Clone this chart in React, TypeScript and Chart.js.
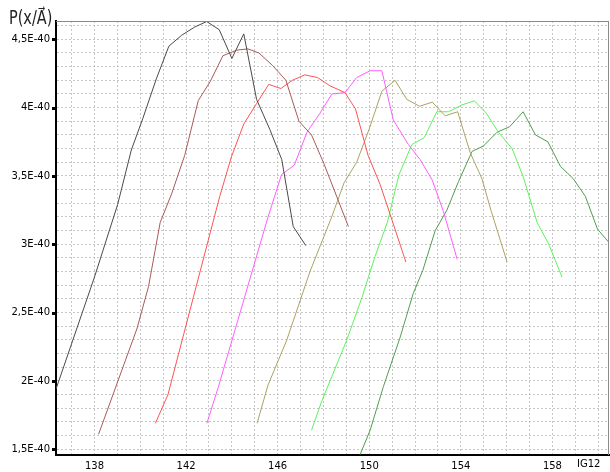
import React, { useEffect, useRef } from "react";
import { Chart, registerables } from "chart.js";

Chart.register(...registerables);

// Values in units of 1E-40
const blackX = [136.32, 138.0, 139.01, 139.61, 140.11, 140.7, 141.25, 141.81, 142.38, 142.9, 143.45, 144.0, 144.52, 145.08, 145.66, 146.18, 146.68, 147.23];
const blackY = [1.94, 2.76, 3.29, 3.69, 3.92, 4.21, 4.45, 4.53, 4.59, 4.63, 4.57, 4.36, 4.54, 4.06, 3.84, 3.62, 3.13, 2.99];

const brownX = [138.18, 139.85, 140.36, 140.87, 141.37, 141.94, 142.53, 143.05, 143.61, 144.2, 144.7, 145.18, 145.77, 146.36, 146.93, 147.48, 148.02, 149.09];
const brownY = [1.61, 2.38, 2.69, 3.16, 3.37, 3.65, 4.05, 4.19, 4.38, 4.42, 4.43, 4.4, 4.31, 4.2, 3.9, 3.8, 3.59, 3.13];

const redX = [140.66, 141.21, 142.33, 143.47, 143.98, 144.52, 145.08, 145.61, 146.14, 146.64, 147.19, 147.74, 148.28, 148.94, 149.4, 149.95, 150.47, 150.91, 151.6];
const redY = [1.69, 1.9, 2.62, 3.35, 3.64, 3.88, 4.03, 4.17, 4.14, 4.2, 4.24, 4.22, 4.16, 4.11, 3.99, 3.65, 3.44, 3.22, 2.87];

const magentaX = [142.91, 143.4, 145.58, 146.17, 146.73, 147.28, 147.85, 148.37, 148.94, 149.45, 150.04, 150.55, 151.05, 151.71, 152.22, 152.75, 153.24, 153.84];
const magentaY = [1.69, 1.95, 3.2, 3.51, 3.58, 3.82, 3.96, 4.1, 4.11, 4.22, 4.27, 4.27, 3.91, 3.73, 3.62, 3.47, 3.24, 2.89];

const oliveX = [145.1, 145.58, 146.4, 147.41, 148.36, 148.9, 149.45, 149.99, 150.55, 151.13, 151.64, 152.2, 152.75, 153.32, 153.86, 154.41, 154.92, 155.33, 156.02];
const oliveY = [1.69, 1.97, 2.3, 2.8, 3.2, 3.45, 3.6, 3.84, 4.12, 4.2, 4.06, 4.01, 4.04, 3.94, 3.97, 3.67, 3.48, 3.24, 2.87];

const greenX = [147.48, 147.92, 149.02, 149.68, 150.25, 150.79, 151.3, 151.86, 152.4, 152.95, 153.46, 154.05, 154.59, 155.11, 155.64, 156.24, 156.73, 157.33, 157.84, 158.42];
const greenY = [1.64, 1.85, 2.3, 2.61, 2.91, 3.16, 3.51, 3.73, 3.78, 3.97, 3.97, 4.02, 4.05, 3.96, 3.82, 3.7, 3.49, 3.16, 3.0, 2.76];

const darkGreenX = [149.6, 150.04, 150.62, 151.35, 151.92, 152.34, 152.88, 153.39, 153.9, 154.49, 154.99, 155.58, 156.13, 156.72, 157.26, 157.8, 158.35, 158.91, 159.44, 159.97, 160.54];
const darkGreenY = [1.46, 1.64, 1.96, 2.32, 2.64, 2.81, 3.1, 3.25, 3.46, 3.68, 3.72, 3.82, 3.86, 3.97, 3.8, 3.75, 3.57, 3.48, 3.35, 3.11, 3.0];

const xGridTicks = [137, 138, 139, 140, 141, 142, 143, 144, 145, 146, 147, 148, 149, 150, 151, 152, 153, 154, 155, 156, 157, 158, 159, 160];
const xLabelTicks = [138, 142, 146, 150, 154, 158];
const yGridTenths = [15, 16, 17, 18, 19, 20, 21, 22, 23, 24, 25, 26, 27, 28, 29, 30, 31, 32, 33, 34, 35, 36, 37, 38, 39, 40, 41, 42, 43, 44, 45, 46];
const yLabelTicks = [1.5, 2, 2.5, 3, 3.5, 4, 4.5];

const X_MIN = 136.32;
const X_MAX = 160.47;
const Y_MIN = 1.458;
const Y_MAX = 4.634;

const titleText = "P(x/A\u20D7)";
const xAxisName = "IG12";

const series = [
  { name: "black", xs: blackX, ys: blackY, color: "#4a4a4a" },
  { name: "brown", xs: brownX, ys: brownY, color: "#a85a5a" },
  { name: "red", xs: redX, ys: redY, color: "#ff5252" },
  { name: "magenta", xs: magentaX, ys: magentaY, color: "#ff5cff" },
  { name: "olive", xs: oliveX, ys: oliveY, color: "#aaa262" },
  { name: "green", xs: greenX, ys: greenY, color: "#5cf25c" },
  { name: "darkgreen", xs: darkGreenX, ys: darkGreenY, color: "#4f9d4f" },
];

const fmtY = (v: number) => String(v).replace(".", ",") + "E-40";

const decorPlugin = {
  id: "decor",
  afterDraw(chart: any) {
    const { ctx, chartArea, scales } = chart;
    const { left, right, top, bottom } = chartArea;
    ctx.save();
    // top and right frame
    ctx.strokeStyle = "#8a8a8a";
    ctx.lineWidth = 1;
    ctx.beginPath();
    ctx.moveTo(left, Math.floor(top) + 0.5);
    ctx.lineTo(right, Math.floor(top) + 0.5);
    ctx.moveTo(Math.floor(right) - 0.5, top);
    ctx.lineTo(Math.floor(right) - 0.5, bottom);
    ctx.stroke();
    // tick squares on y axis
    ctx.fillStyle = "#000";
    yLabelTicks.forEach((v) => {
      const py = Math.round(scales.y.getPixelForValue(v));
      ctx.fillRect(Math.round(left) - 4, py - 1, 3, 3);
    });
    // title
    ctx.fillStyle = "#222";
    ctx.font = "19px 'DejaVu Sans'";
    ctx.textBaseline = "alphabetic";
    ctx.textAlign = "left";
    ctx.save();
    ctx.translate(9, 24);
    ctx.scale(0.76, 1);
    ctx.fillText(titleText, 0, 0);
    ctx.restore();
    // x axis name
    ctx.fillStyle = "#000";
    ctx.font = "10px 'DejaVu Sans'";
    ctx.textBaseline = "top";
    ctx.textAlign = "left";
    ctx.fillText(xAxisName, 577, 459);
    ctx.restore();
  },
};

export default function App() {
  const ref = useRef<HTMLCanvasElement | null>(null);
  useEffect(() => {
    document.body.style.margin = "0";
    const canvas = ref.current;
    if (!canvas) return;
    const chart = new Chart(canvas, {
      type: "line",
      data: {
        datasets: series.map((s) => ({
          label: s.name,
          data: s.xs.map((x, i) => ({ x, y: s.ys[i] })),
          borderColor: s.color,
          backgroundColor: s.color,
          borderWidth: 1,
          pointRadius: 0,
          tension: 0,
          fill: false,
          clip: 0,
        })),
      },
      options: {
        responsive: false,
        animation: false,
        events: [],
        layout: { padding: { left: 0, top: 21, right: 1, bottom: 0 } },
        plugins: {
          legend: { display: false },
          tooltip: { enabled: false },
          title: { display: false },
        },
        scales: {
          x: {
            type: "linear",
            min: X_MIN,
            max: X_MAX,
            afterBuildTicks: (s: any) => {
              s.ticks = xGridTicks.map((v) => ({ value: v }));
            },
            afterFit: (s: any) => {
              s.height = 17;
            },
            ticks: {
              autoSkip: false,
              maxRotation: 0,
              minRotation: 0,
              padding: 5,
              color: "#000",
              font: { family: "'DejaVu Sans'", size: 10 },
              callback: (v: any) => (xLabelTicks.includes(Number(v)) ? String(v) : ""),
            },
            grid: { color: "#c6c6c6", lineWidth: 1, drawTicks: false },
            border: { color: "#000", width: 2, dash: [2, 2] },
          },
          y: {
            type: "linear",
            min: Y_MIN,
            max: Y_MAX,
            afterBuildTicks: (s: any) => {
              s.ticks = yGridTenths.map((t) => ({ value: t / 10 }));
            },
            afterFit: (s: any) => {
              s.width = 56;
            },
            ticks: {
              autoSkip: false,
              padding: 6,
              color: "#000",
              font: { family: "'DejaVu Sans'", size: 10 },
              callback: (v: any) => {
                const t = Math.round(Number(v) * 10);
                return t % 5 === 0 ? fmtY(t / 10) : "";
              },
            },
            grid: { color: "#c6c6c6", lineWidth: 1, drawTicks: false },
            border: { color: "#000", width: 2, dash: [2, 2] },
          },
        },
      },
      plugins: [decorPlugin],
    } as any);
    return () => chart.destroy();
  }, []);
  return (
    <div style={{ position: "absolute", left: 0, top: 0, width: 610, height: 472, background: "#fff" }}>
      <canvas ref={ref} width={610} height={472} style={{ display: "block" }} />
    </div>
  );
}
